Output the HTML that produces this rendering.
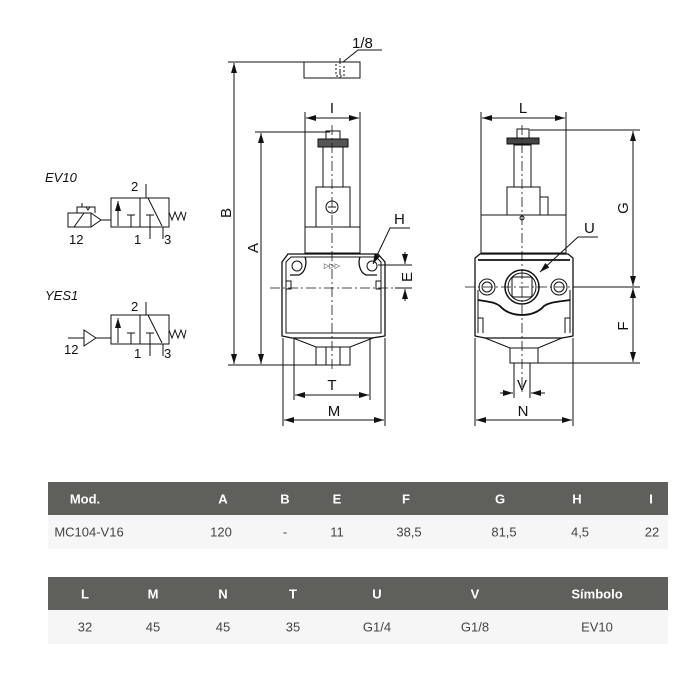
<!DOCTYPE html>
<html><head><meta charset="utf-8"><style>
body{margin:0;background:#fff;width:700px;height:700px;overflow:hidden;font-family:"Liberation Sans",sans-serif}
svg{position:absolute;left:0;top:0}
.t{position:absolute;left:48px;width:620px}
.h{background:#5f5f5c;color:#fff;font-weight:bold;font-size:13px;height:33px;position:relative}
.r{background:#f6f6f6;color:#444;font-size:13px;height:34px;position:relative}
.h span,.r span{position:absolute;top:50%;transform:translate(-50%,-50%);white-space:nowrap}
</style></head><body>
<svg width="700" height="470" viewBox="0 0 700 470" font-family="Liberation Sans, sans-serif" fill="none" stroke="#111" stroke-width="1">
<defs><marker id="a" viewBox="0 0 10 6" refX="10" refY="3" markerWidth="10" markerHeight="6" orient="auto-start-reverse" markerUnits="userSpaceOnUse"><path d="M0,0L10,3L0,6z" fill="#111" stroke="none"/></marker></defs>
<!-- 1/8 block -->
<rect x="304" y="62" width="56" height="16"/>
<path d="M336,64v12h8v-12" stroke-dasharray="2,2"/>
<path d="M340,58v22" stroke-dasharray="6,2,1,2"/>
<path d="M343,62L358,50H382" /><text x="352" y="48" font-size="15" fill="#111" stroke="none">1/8</text>
<!-- B -->
<path d="M228,62H304M228,365H340"/>
<path d="M234,63V364" marker-start="url(#a)" marker-end="url(#a)"/>
<text x="231" y="213" font-size="15" fill="#111" stroke="none" transform="rotate(-90 231 213)" text-anchor="middle">B</text>
<!-- A -->
<path d="M255,132H330"/>
<path d="M261,133V364" marker-start="url(#a)" marker-end="url(#a)"/>
<text x="258" y="248" font-size="15" fill="#111" stroke="none" transform="rotate(-90 258 248)" text-anchor="middle">A</text>
<!-- I -->
<path d="M305,112V253M360,112V253"/>
<path d="M306,118H359" marker-start="url(#a)" marker-end="url(#a)"/>
<text x="332" y="113" font-size="15" fill="#111" stroke="none" text-anchor="middle">I</text>
<!-- left upper -->
<rect x="305" y="227" width="55" height="26"/>
<rect x="316" y="187" width="34" height="40"/>
<circle cx="332" cy="207" r="6"/><path d="M328,207h8"/>
<rect x="323" y="147" width="20" height="40"/>
<rect x="318" y="139" width="30" height="8" fill="#555"/>
<rect x="326" y="131" width="14" height="8"/>
<!-- left body -->
<path d="M282,262L288,254H378L385,262V336L372,338H292L282,336Z" stroke-width="1.3"/>
<path d="M286,262L291,257H376L381,262V333H286Z"/>
<path d="M305,257C307,262 306,272 299,275H290M360,257C358,262 359,272 366,275H377" stroke-width="1.3"/>
<path d="M286,281h5v8h-5M381,281h-5v8h5M286,300v33M381,300v33"/>
<path d="M293,338L316,347H350L373,338"/>
<rect x="316" y="347" width="34" height="18"/>
<path d="M326,347v18M340,347v18"/>
<circle cx="297" cy="266" r="5"/><circle cx="372" cy="266" r="5"/>
<text x="332" y="268" font-size="7" fill="#111" stroke="none" text-anchor="middle">▷▷▷</text>
<path d="M332,125V370M270,288H395" stroke-dasharray="10,3,2,3" stroke-width="0.8"/>
<!-- H -->
<path d="M373,264L390,228H410" marker-start="url(#a)"/>
<text x="394" y="224" font-size="15" fill="#111" stroke="none">H</text>
<!-- E -->
<path d="M378,265H412M395,288H412"/>
<path d="M405,252V264" marker-end="url(#a)"/><path d="M405,301V289" marker-end="url(#a)"/>
<text x="412" y="277" font-size="15" fill="#111" stroke="none" transform="rotate(-90 412 277)" text-anchor="middle">E</text>
<!-- T, M -->
<path d="M294,338V400M370,338V400M283,338V426M385,338V426"/>
<path d="M295,395H369" marker-start="url(#a)" marker-end="url(#a)"/>
<text x="332" y="390" font-size="15" fill="#111" stroke="none" text-anchor="middle">T</text>
<path d="M284,420H384" marker-start="url(#a)" marker-end="url(#a)"/>
<text x="334" y="416" font-size="15" fill="#111" stroke="none" text-anchor="middle">M</text>

<!-- right view -->
<path d="M481,112V253M566,112V253"/>
<path d="M482,118H565" marker-start="url(#a)" marker-end="url(#a)"/>
<text x="523" y="113" font-size="15" fill="#111" stroke="none" text-anchor="middle">L</text>
<rect x="481" y="215" width="85" height="38"/>
<rect x="507" y="187" width="33" height="28"/>
<rect x="540" y="197" width="8" height="18"/>
<rect x="514" y="145" width="17" height="42"/>
<rect x="507" y="138" width="32" height="6" fill="#444"/>
<rect x="517" y="129" width="12" height="9"/>
<circle cx="522" cy="218" r="2"/>
<path d="M475,258L480,254H568L573,258V336L562,338H485L475,336Z" stroke-width="1.3"/>
<path d="M478,260H570M478,300C490,302 494,302 500,306C510,318 534,318 544,306C550,302 556,302 570,300" stroke-width="1.8"/>
<path d="M478,290V333M570,290V333M478,318h5v15M570,318h-5v15"/>
<path d="M485,338L510,348H538L562,338"/>
<rect x="510" y="348" width="28" height="15"/>
<circle cx="522" cy="287" r="17" stroke-width="1.5"/><circle cx="522" cy="287" r="14"/>
<rect x="512" y="277" width="20" height="20" rx="2"/>
<circle cx="487" cy="287" r="8"/><circle cx="487" cy="287" r="5"/>
<circle cx="559" cy="287" r="8"/><circle cx="559" cy="287" r="5"/>
<path d="M522,125V395M465,287H585" stroke-dasharray="10,3,2,3" stroke-width="0.8"/>
<path d="M540,272L578,237H598" marker-start="url(#a)"/>
<text x="584" y="233" font-size="15" fill="#111" stroke="none">U</text>
<!-- G F -->
<path d="M530,130H640M573,287H640M538,363H640"/>
<path d="M633,131V286" marker-start="url(#a)" marker-end="url(#a)"/>
<path d="M633,288V362" marker-start="url(#a)" marker-end="url(#a)"/>
<text x="628" y="208" font-size="15" fill="#111" stroke="none" transform="rotate(-90 628 208)" text-anchor="middle">G</text>
<text x="628" y="326" font-size="15" fill="#111" stroke="none" transform="rotate(-90 628 326)" text-anchor="middle">F</text>
<!-- V N -->
<path d="M514,363V398M530,363V398M475,338V426M573,338V426"/>
<path d="M500,393H513" marker-end="url(#a)"/><path d="M545,393H531" marker-end="url(#a)"/>
<text x="522" y="390" font-size="15" fill="#111" stroke="none" text-anchor="middle">V</text>
<path d="M476,420H572" marker-start="url(#a)" marker-end="url(#a)"/>
<text x="523" y="416" font-size="15" fill="#111" stroke="none" text-anchor="middle">N</text>

<!-- symbols -->
<g font-size="13" fill="#111" stroke="none" font-style="italic">
<text x="45" y="182">EV10</text><text x="45" y="300">YES1</text></g>
<g font-size="13" fill="#111" stroke="none">
<text x="131" y="191">2</text><text x="134" y="244">1</text><text x="164" y="244">3</text><text x="69" y="244">12</text>
<text x="131" y="311">2</text><text x="134" y="358">1</text><text x="164" y="358">3</text><text x="64" y="354">12</text></g>
<rect x="111" y="198" width="58" height="29"/><path d="M140,198v29"/>
<path d="M118,226V201" marker-end="url(#a)"/>
<path d="M127,215h8M131,215v12M146,215h8M150,215v12M150,227v12M163,227v12M146,184v14M148,198L162,226" />
<path d="M169,212l3,8 3,-8 3,8 3,-8 3,8 2,-8"/>
<rect x="68" y="213" width="23" height="14"/><path d="M74,227l10,-14M91,213l10,7 -10,7M101,220h10"/>
<path d="M77,213v-6h18v6M82,207v-4M86,207l2,3 2,-3"/>
<rect x="111" y="315" width="58" height="29"/><path d="M140,315v29"/>
<path d="M118,343V318" marker-end="url(#a)"/>
<path d="M127,333h8M131,333v11M146,333h8M150,333v11M150,344v12M163,344v12M146,302v13M148,315L162,343"/>
<path d="M169,330l3,8 3,-8 3,8 3,-8 3,8 2,-8"/>
<path d="M68,338h16M84,330l12,8 -12,8zM96,338h15"/>
</svg>
<div class="t" style="top:482px">
<div class="h"><span style="left:37px">Mod.</span><span style="left:175px">A</span><span style="left:237px">B</span><span style="left:289px">E</span><span style="left:358px">F</span><span style="left:452px">G</span><span style="left:529px">H</span><span style="left:603px">I</span></div>
<div class="r"><span style="left:41px">MC104-V16</span><span style="left:173px">120</span><span style="left:237px">-</span><span style="left:289px">11</span><span style="left:361px">38,5</span><span style="left:456px">81,5</span><span style="left:532px">4,5</span><span style="left:604px">22</span></div>
</div>
<div class="t" style="top:577px">
<div class="h"><span style="left:37px">L</span><span style="left:105px">M</span><span style="left:175px">N</span><span style="left:245px">T</span><span style="left:329px">U</span><span style="left:427px">V</span><span style="left:549px">Símbolo</span></div>
<div class="r"><span style="left:37px">32</span><span style="left:105px">45</span><span style="left:175px">45</span><span style="left:245px">35</span><span style="left:329px">G1/4</span><span style="left:427px">G1/8</span><span style="left:549px">EV10</span></div>
</div>
</body></html>
